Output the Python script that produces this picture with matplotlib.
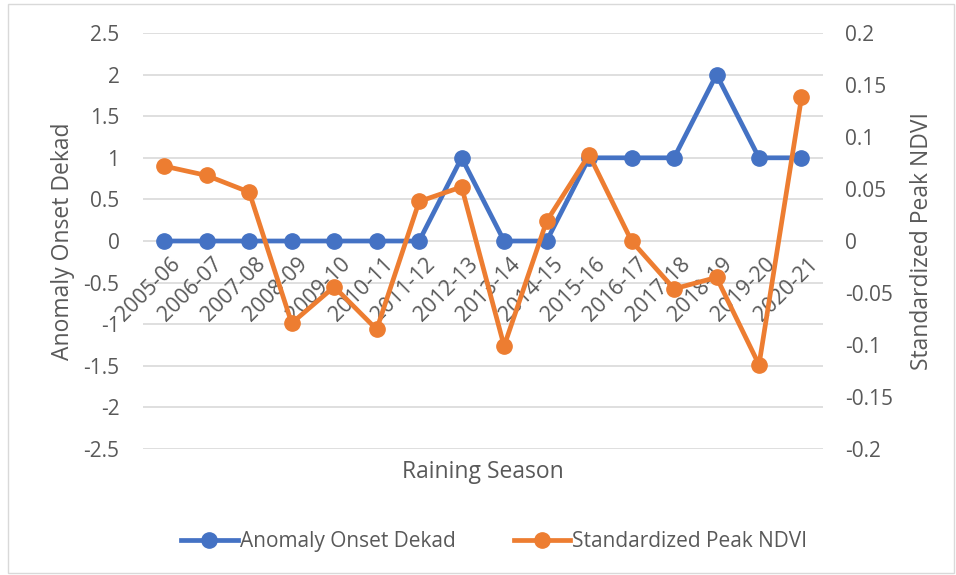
import matplotlib.pyplot as plt
from matplotlib.patches import Rectangle
from matplotlib.lines import Line2D

plt.rcParams['font.family'] = ['Open Sans', 'DejaVu Sans']

seasons = ['2005-06', '2006-07', '2007-08', '2008-09', '2009-10', '2010-11',
           '2011-12', '2012-13', '2013-14', '2014-15', '2015-16', '2016-17',
           '2017-18', '2018-19', '2019-20', '2020-21']
anomaly_onset = [0, 0, 0, 0, 0, 0, 0, 1, 0, 0, 1, 1, 1, 2, 1, 1]
peak_ndvi = [0.072, 0.063, 0.047, -0.079, -0.044, -0.085, 0.038, 0.052,
             -0.101, 0.019, 0.083, 0.0, -0.046, -0.035, -0.119, 0.138]
left_ticks = [-2.5, -2, -1.5, -1, -0.5, 0, 0.5, 1, 1.5, 2, 2.5]
right_ticks = [-0.2, -0.15, -0.1, -0.05, 0, 0.05, 0.1, 0.15, 0.2]

blue = '#4472C4'
orange = '#ED7D31'
gray = '#595959'

fig = plt.figure(figsize=(9.56, 5.75), dpi=100)
fig.patches.append(Rectangle((0.008, 0.003), 0.99, 0.99, transform=fig.transFigure,
                             fill=False, edgecolor='#d9d9d9', linewidth=1))

ax = fig.add_axes([0.1496, 0.2191, 0.711, 0.7235])
ax2 = ax.twinx()
x = list(range(len(seasons)))

ax.plot(x, anomaly_onset, color=blue, lw=3.4, marker='o', markersize=11, zorder=3)
ax2.plot(x, peak_ndvi, color=orange, lw=3.4, marker='o', markersize=11, zorder=3)

ax.set_xlim(-0.5, len(seasons) - 0.5)
ax.set_ylim(-2.5, 2.5)
ax2.set_ylim(-0.2, 0.2)
ax.set_yticks(left_ticks)
ax.set_yticklabels([f'{v:g}' for v in left_ticks])
ax2.set_yticks(right_ticks)
ax2.set_yticklabels([f'{v:g}' for v in right_ticks])

for a in (ax, ax2):
    for s in a.spines.values():
        s.set_visible(False)
    a.tick_params(axis='y', length=0, labelsize=15, colors=gray)
ax.tick_params(axis='y', pad=17)
ax2.tick_params(axis='y', pad=16)
ax.grid(axis='y', color='#d9d9d9', lw=1.2)
ax.set_axisbelow(True)
ax.set_xticks([])

# category labels sit on the zero line, like Excel does
for i, s in enumerate(seasons):
    ax.annotate(s, (i, 0), xytext=(4, -9), textcoords='offset points',
                rotation=45, rotation_mode='anchor', ha='right', va='top',
                fontsize=15.5, color=gray)

ax.set_ylabel('Anomaly Onset Dekad', fontsize=16.5, color=gray, labelpad=6)
ax2.set_ylabel('Standardized Peak NDVI', fontsize=16.5, color=gray, labelpad=12)
ax.set_xlabel('Raining Season', fontsize=16.5, color=gray, labelpad=8)

handles = [Line2D([], [], color=blue, lw=3.4, marker='o', markersize=11),
           Line2D([], [], color=orange, lw=3.4, marker='o', markersize=11)]
fig.legend(handles, ['Anomaly Onset Dekad', 'Standardized Peak NDVI'],
           loc='center', bbox_to_anchor=(0.517, 0.058), ncol=2, frameon=False,
           fontsize=15, labelcolor=gray, handlelength=2.7, handletextpad=0.1,
           columnspacing=2.8)

fig.savefig('out.png', dpi=100)
